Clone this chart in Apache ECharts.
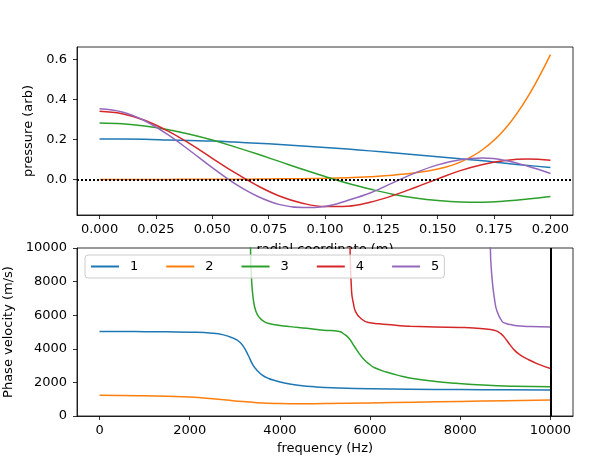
<!DOCTYPE html>
<html>
<head>
<meta charset="utf-8">
<script src="https://cdn.jsdelivr.net/npm/echarts@6/dist/echarts.min.js"></script>
<style>
  html, body { margin: 0; padding: 0; background: #fff; }
  #chart { width: 596px; height: 465px; }
</style>
</head>
<body>
<div id="chart"></div>
<script>
// top panel: pressure profiles across the radius
const radius = [0, 0.01, 0.02, 0.03, 0.04, 0.05, 0.06, 0.07, 0.08, 0.09, 0.10,
  0.11, 0.12, 0.13, 0.14, 0.15, 0.16, 0.17, 0.18, 0.19, 0.20];
const pressure1 = [0.202, 0.202, 0.201, 0.198, 0.195, 0.192, 0.187, 0.181, 0.175, 0.168, 0.160,
  0.152, 0.143, 0.134, 0.124, 0.114, 0.103, 0.093, 0.081, 0.070, 0.060];
const pressure2 = [0.000, 0.000, 0.000, 0.000, 0.001, 0.001, 0.001, 0.002, 0.003, 0.004, 0.006,
  0.009, 0.014, 0.021, 0.033, 0.052, 0.087, 0.150, 0.255, 0.415, 0.625];
const pressure3 = [0.283, 0.279, 0.268, 0.250, 0.226, 0.197, 0.163, 0.127, 0.089, 0.051, 0.015,
  -0.019, -0.048, -0.074, -0.093, -0.106, -0.113, -0.114, -0.108, -0.098, -0.085];
const pressure4 = [0.341, 0.329, 0.296, 0.244, 0.179, 0.106, 0.034, -0.031, -0.084, -0.119, -0.136,
  -0.134, -0.114, -0.081, -0.040, 0.003, 0.044, 0.075, 0.095, 0.102, 0.096];
const pressure5 = [0.354, 0.338, 0.294, 0.227, 0.145, 0.059, -0.021, -0.084, -0.126, -0.141, -0.135,
  -0.105, -0.068, -0.017, 0.033, 0.073, 0.099, 0.107, 0.095, 0.066, 0.030];

// bottom panel: phase velocity per mode, [frequency, velocity]
const mode1 = [[0, 5030], [500, 5030], [1000, 5020], [1500, 5010], [2000, 4990], [2500, 4930],
  [2750, 4830], [2950, 4650], [3100, 4420], [3200, 4100], [3300, 3600], [3400, 3050], [3500, 2700],
  [3600, 2450], [3750, 2230], [3900, 2100], [4100, 1960], [4400, 1830], [4800, 1730], [5300, 1670],
  [6000, 1620], [6890, 1590], [8000, 1570], [9000, 1560], [10000, 1550]];
const mode2 = [[0, 1230], [500, 1225], [1000, 1205], [1500, 1175], [2000, 1130], [2500, 1030],
  [3000, 900], [3500, 790], [4000, 745], [4500, 735], [5000, 740], [6000, 775], [7000, 820],
  [8000, 865], [9000, 905], [10000, 945]];
const mode3 = [[3335, 14000], [3348, 10000], [3370, 8210], [3407, 7020], [3467, 6230], [3556, 5830],
  [3650, 5620], [3778, 5490], [4000, 5390], [4222, 5320], [4600, 5220], [4963, 5110], [5318, 5030],
  [5420, 4880], [5540, 4600], [5650, 4150], [5763, 3700], [5870, 3350], [5985, 3080], [6100, 2870],
  [6356, 2620], [6700, 2370], [6948, 2230], [7410, 2070], [7900, 1950], [8500, 1840], [9200, 1770],
  [10000, 1740]];
const mode4 = [[5545, 14000], [5556, 10000], [5590, 7400], [5630, 6700], [5680, 6200], [5780, 5850],
  [5963, 5560], [6210, 5490], [6660, 5370], [6890, 5340], [8000, 5270], [8300, 5240], [8667, 5150],
  [8800, 5070], [8900, 4900], [8980, 4680], [9100, 4250], [9200, 3920], [9318, 3650], [9480, 3400],
  [9700, 3120], [10000, 2830]];
const mode5 = [[8655, 14000], [8667, 10000], [8704, 8210], [8756, 7020], [8815, 6230], [8926, 5630],
  [9000, 5520], [9111, 5440], [9330, 5350], [9556, 5330], [10000, 5300]];

const modeNames = ['1', '2', '3', '4', '5'];
const radiusTicks = [0, 0.025, 0.05, 0.075, 0.1, 0.125, 0.15, 0.175, 0.2];
const pressureTicks = [0, 0.2, 0.4, 0.6];
const freqTicks = [0, 2000, 4000, 6000, 8000, 10000];

const colors = ['#1f77b4', '#ff7f0e', '#2ca02c', '#d62728', '#9467bd'];
const font = 'DejaVu Sans';
const txt = { color: '#000', fontSize: 13, fontFamily: font };

const chart = echarts.init(document.getElementById('chart'));

const tick = { show: true, length: 4, lineStyle: { color: '#000', width: 0.8 } };
const line = { show: true, onZero: false, lineStyle: { color: '#000', width: 0.8 } };

const profiles = [pressure1, pressure2, pressure3, pressure4, pressure5];
const modes = [mode1, mode2, mode3, mode4, mode5];

const series = [];
profiles.forEach((p, i) => {
  series.push({
    name: 'p' + modeNames[i],
    type: 'line',
    xAxisIndex: 0,
    yAxisIndex: 0,
    data: radius.map((r, j) => [r, p[j]]),
    symbol: 'none',
    smooth: 0.4,
    color: colors[i],
    lineStyle: { width: 1.5 }
  });
});
// dotted zero line on top
series[4].markLine = {
  silent: true, symbol: 'none', animation: false,
  label: { show: false },
  lineStyle: { color: '#000', width: 2, type: [2, 2] },
  data: [{ yAxis: 0 }]
};

modes.forEach((m, i) => {
  series.push({
    name: modeNames[i],
    type: 'line',
    xAxisIndex: 1,
    yAxisIndex: 1,
    data: m,
    symbol: 'none',
    smooth: 0.5,
    color: colors[i],
    lineStyle: { width: 1.5 }
  });
});
series[9].markLine = {
  silent: true, symbol: 'none', animation: false,
  label: { show: false },
  lineStyle: { color: '#000', width: 2, type: 'solid' },
  data: [{ xAxis: 10000 }]
};

const option = {
  animation: false,
  backgroundColor: '#fff',
  grid: [
    { left: 77, top: 47, width: 496, height: 168, show: true, borderColor: '#000', borderWidth: 0.8, outerBoundsMode: 'none' },
    { left: 77, top: 248, width: 496, height: 168, show: true, borderColor: '#000', borderWidth: 0.8, outerBoundsMode: 'none' }
  ],
  legend: {
    data: modeNames,
    left: 85,
    top: 255,
    itemWidth: 28,
    itemHeight: 14,
    itemGap: 27,
    padding: [5, 5],
    backgroundColor: 'rgba(255,255,255,0.8)',
    borderColor: '#cccccc',
    borderWidth: 1,
    borderRadius: 3,
    itemStyle: { opacity: 0 },
    textStyle: Object.assign({}, txt, { padding: [0, 0, 0, 6] })
  },
  xAxis: [
    {
      type: 'value', gridIndex: 0, min: -0.01, max: 0.21,
      name: 'radial coordinate (m)', nameLocation: 'middle', nameGap: 28, nameTextStyle: txt,
      axisLine: line,
      axisTick: Object.assign({ customValues: radiusTicks }, tick),
      axisLabel: Object.assign({ customValues: radiusTicks, margin: 8, formatter: v => v.toFixed(3) }, txt),
      splitLine: { show: false }
    },
    {
      type: 'value', gridIndex: 1, min: -500, max: 10500,
      name: 'frequency (Hz)', nameLocation: 'middle', nameGap: 26, nameTextStyle: txt,
      axisLine: line,
      axisTick: Object.assign({ customValues: freqTicks }, tick),
      axisLabel: Object.assign({ customValues: freqTicks, margin: 8, formatter: v => String(v) }, txt),
      splitLine: { show: false }
    }
  ],
  yAxis: [
    {
      type: 'value', gridIndex: 0, min: -0.178, max: 0.663,
      name: 'pressure (arb)', nameLocation: 'middle', nameGap: 38, nameTextStyle: txt,
      axisLine: line,
      axisTick: Object.assign({ customValues: pressureTicks }, tick),
      axisLabel: Object.assign({ customValues: pressureTicks, margin: 10, formatter: v => v.toFixed(1) }, txt),
      splitLine: { show: false }
    },
    {
      type: 'value', gridIndex: 1, min: 0, max: 10000, interval: 2000,
      name: 'Phase velocity (m/s)', nameLocation: 'middle', nameGap: 60, nameTextStyle: txt,
      axisLine: line,
      axisTick: tick,
      axisLabel: Object.assign({ margin: 10, formatter: v => String(v) }, txt),
      splitLine: { show: false }
    }
  ],
  // the lower panel hides the bottom half of the upper x label
  graphic: [{
    type: 'rect', silent: true, z: 1,
    shape: { x: 78, y: 249, width: 494, height: 14 },
    style: { fill: '#fff' }
  }],
  series: series
};

chart.setOption(option);
</script>
</body>
</html>
